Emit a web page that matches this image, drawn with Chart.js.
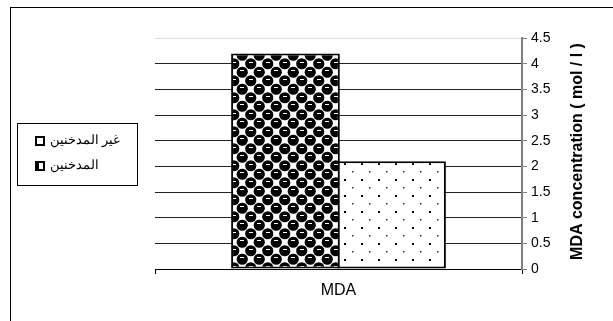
<!DOCTYPE html>
<html>
<head>
<meta charset="utf-8">
<script src="https://cdn.jsdelivr.net/npm/chart.js@4"></script>
<style>
  html, body { margin: 0; padding: 0; background: #fff; }
  #wrap { position: relative; width: 613px; height: 321px; overflow: hidden; }
</style>
</head>
<body>
<div id="wrap"><canvas id="mda-chart" width="613" height="321"></canvas></div>
<script>
const categories = ['MDA']
const smokers = [4.2]
const nonSmokers = [2.1]
const seriesNames = ['المدخنين', 'غير المدخنين']
const yTicks = [0, 0.5, 1, 1.5, 2, 2.5, 3, 3.5, 4, 4.5]
const yTitle = 'MDA concentration ( mol / l )'

function makeTile (w, h, draw) {
  const c = document.createElement('canvas')
  c.width = w
  c.height = h
  const g = c.getContext('2d')
  g.fillStyle = '#fff'
  g.fillRect(0, 0, w, h)
  draw(g)
  return c
}

const ctx = document.getElementById('mda-chart').getContext('2d')

// checker of black blobs (smokers)
const checkTile = makeTile(17, 17, g => {
  const centers = [[4.25, 4.25], [12.75, 12.75]]
  const shifts = [-17, 0, 17]
  g.fillStyle = '#000'
  centers.forEach(([x, y]) => {
    shifts.forEach(dx => shifts.forEach(dy => {
      g.beginPath()
      g.arc(x + dx, y + dy, 5.6, 0, Math.PI * 2)
      g.fill()
    }))
  })
  g.fillStyle = '#fff'
  centers.forEach(([x, y]) => {
    g.fillRect(Math.round(x) - 2, Math.round(y) - 2, 4, 1)
  })
})
const checkPattern = ctx.createPattern(checkTile, 'repeat')

// sparse dots (non smokers)
const dotTile = makeTile(17, 16, g => {
  g.fillStyle = '#000'
  g.fillRect(4, 3, 2, 2)
  g.fillStyle = '#333'
  g.fillRect(12, 11, 1.5, 1.5)
})
const dotPattern = ctx.createPattern(dotTile, 'repeat')

const frame = {
  id: 'frame',
  beforeDraw (chart) {
    const c = chart.ctx
    c.save()
    c.fillStyle = '#fff'
    c.fillRect(0, 0, chart.width, chart.height)
    c.strokeStyle = '#000'
    c.lineWidth = 1
    c.strokeRect(10.5, 7.5, 700, 400)
    c.restore()
  },
  afterDraw (chart) {
    const c = chart.ctx
    const area = chart.chartArea
    // y axis title, reading bottom to top
    c.save()
    c.translate(578, (area.top + area.bottom) / 2 - 2)
    c.rotate(-Math.PI / 2)
    c.font = 'bold 16px Arial, "Liberation Sans"'
    c.fillStyle = '#000'
    c.textAlign = 'center'
    c.textBaseline = 'middle'
    c.fillText(yTitle, 0, 0)
    c.restore()

    // boxed legend, listed in reverse like the original
    c.save()
    c.strokeStyle = '#000'
    c.lineWidth = 1
    c.strokeRect(17.5, 123.5, 120, 62)
    c.font = '12.5px Arial, "Liberation Sans"'
    c.textBaseline = 'middle'
    const sets = chart.data.datasets.slice().reverse()
    sets.forEach((ds, i) => {
      const y = 141 + i * 25
      c.fillStyle = '#fff'
      c.fillRect(36, y - 4, 8, 8)
      if (i === 1) {
        c.fillStyle = '#000'
        c.fillRect(36, y - 4, 3, 8)
      }
      c.lineWidth = 2
      c.strokeRect(36, y - 4, 8, 8)
      c.fillStyle = '#000'
      c.direction = 'rtl'
      c.textAlign = 'left'
      c.fillText(ds.label, 50, y)
    })
    c.restore()
  }
}

new Chart(ctx, {
  type: 'bar',
  data: {
    labels: categories,
    datasets: [{
      label: seriesNames[0],
      data: smokers,
      backgroundColor: checkPattern,
      borderColor: '#000',
      borderWidth: 2,
      borderSkipped: false
    }, {
      label: seriesNames[1],
      data: nonSmokers,
      backgroundColor: dotPattern,
      borderColor: '#000',
      borderWidth: 2,
      borderSkipped: false
    }]
  },
  options: {
    responsive: false,
    animation: false,
    categoryPercentage: 0.578,
    barPercentage: 1.025,
    layout: {
      padding: { left: 155, top: 38, right: 0, bottom: 0 }
    },
    scales: {
      x: {
        offset: true,
        grid: {
          offset: true,
          drawOnChartArea: false,
          color: '#000',
          tickLength: 5
        },
        border: { color: '#000', width: 1 },
        ticks: {
          padding: 7,
          color: '#000',
          font: { size: 16, family: 'Arial' }
        },
        afterFit: (s) => { s.height = 52 }
      },
      y: {
        position: 'right',
        min: 0,
        max: 4.5,
        afterBuildTicks: (s) => { s.ticks = yTicks.map(v => ({ value: v })) },
        grid: {
          color: (c) => c.tick && c.tick.value === 4.5 ? '#e0e0e0' : '#222',
          tickColor: '#808080',
          tickLength: 5
        },
        border: { color: '#808080', width: 2 },
        ticks: {
          padding: 4,
          color: '#000',
          font: { size: 14, family: 'Arial' },
          callback: (v) => String(+v.toFixed(1))
        },
        afterFit: (s) => { s.width = 91 }
      }
    },
    plugins: {
      legend: { display: false },
      tooltip: { enabled: false }
    }
  },
  plugins: [frame]
})
</script>
</body>
</html>
